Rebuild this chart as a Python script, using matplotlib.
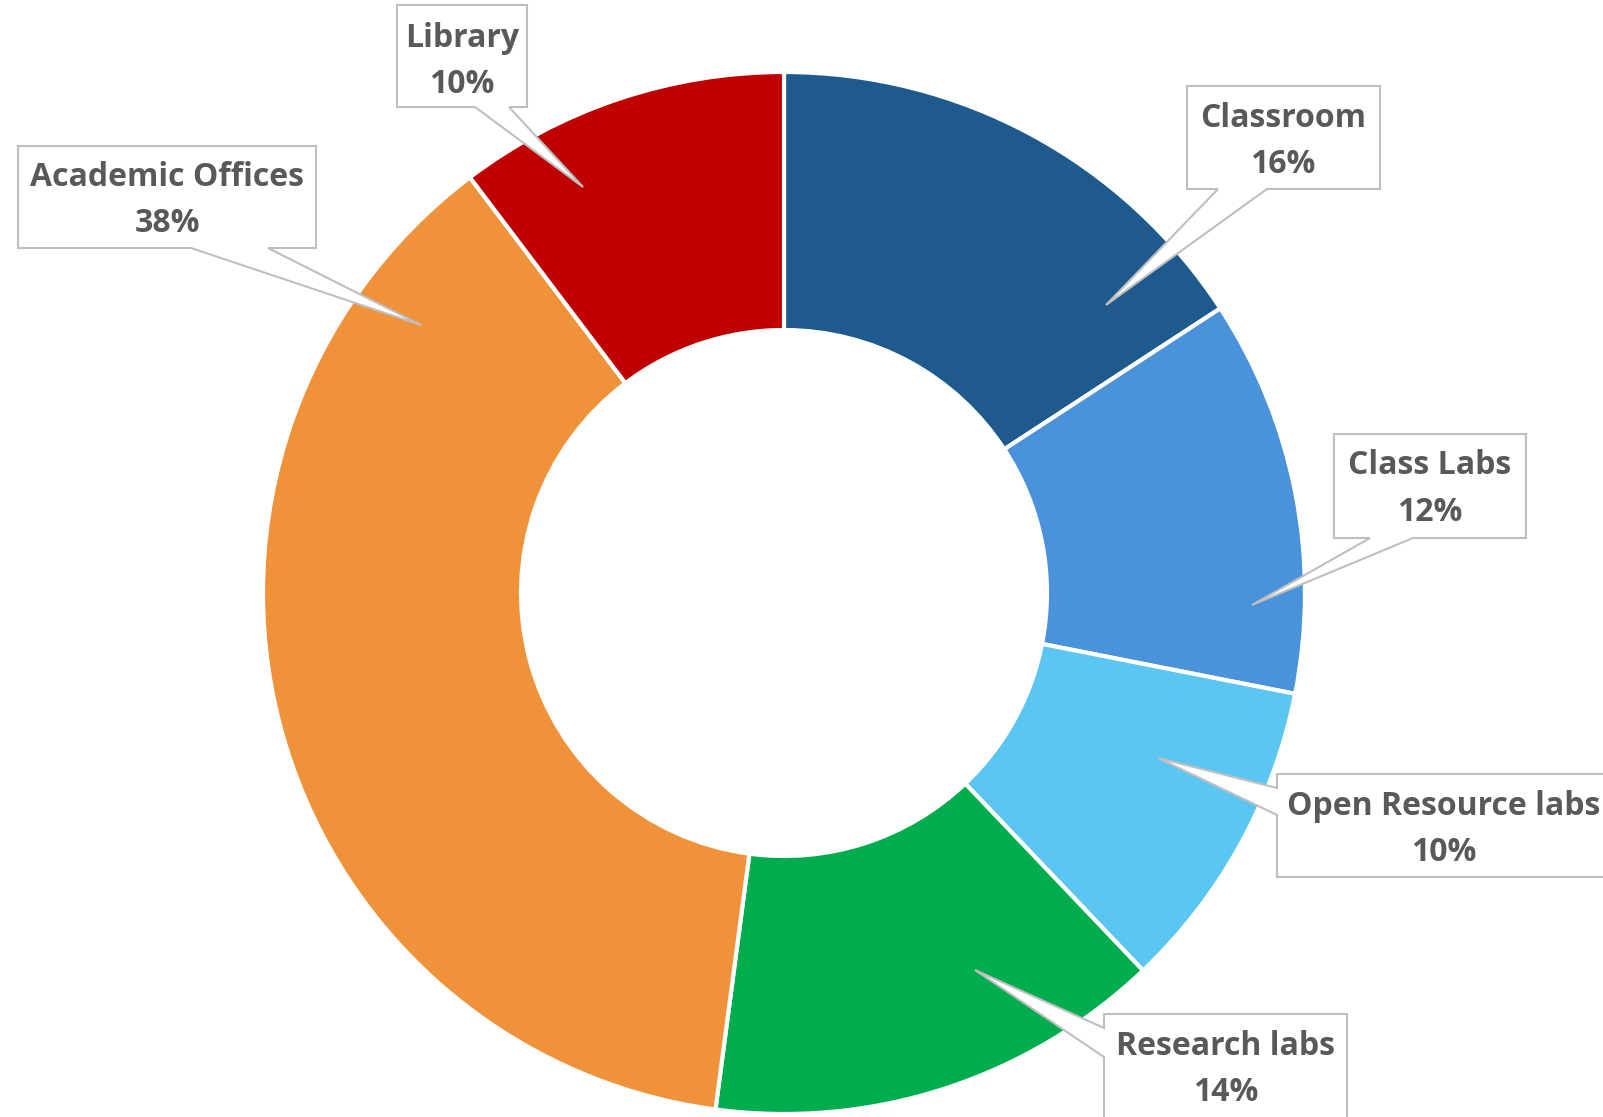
import matplotlib
matplotlib.use("Agg")
import matplotlib.pyplot as plt
from matplotlib.patches import Polygon

categories = ["Classroom", "Class Labs", "Open Resource labs", "Research labs",
              "Academic Offices", "Library"]
shares = [15.8, 12.3, 9.8, 14.2, 37.6, 10.3]
pct_labels = ["16%", "12%", "10%", "14%", "38%", "10%"]
colors = ["#1F5A8F", "#4A92DA", "#5BC6F2", "#00AD4E", "#F0923A", "#C00000"]

# Uklad etykiet (wspolrzedne w pikselach obrazu, y w dol)
# box: (x0, y0, x1, y1), edge, base (a, b), tip, text x, text y (2 linie)
label_layout = {
    "Classroom": ((1187, 86, 1380, 189), "bottom", (1218, 1267), (1106, 305), 1283, (116, 162)),
    "Class Labs": ((1334, 434, 1526, 538), "bottom", (1370, 1413), (1252, 605), 1430, (463, 510)),
    "Open Resource labs": ((1277, 774, 1612, 877), "left", (788, 815), (1158, 758), 1444, (804, 850)),
    "Research labs": ((1104, 1014, 1347, 1122), "left", (1028, 1057), (975, 970), 1226, (1044, 1090)),
    "Academic Offices": ((18, 146, 316, 248), "bottom", (191, 268), (421, 325), 167, (175, 221)),
    "Library": ((397, 5, 527, 107), "bottom", (475, 509), (583, 187), 462, (36, 82)),
}

W, H = 1603, 1117
fig = plt.figure(figsize=(W / 100, H / 100), dpi=100)
ax = fig.add_axes([0, 0, 1, 1])

# os y odwrocona -> counterclock=True daje ruch zgodny z zegarem na obrazku
ax.pie(shares, colors=colors, center=(784, 593), radius=521,
       startangle=-90, counterclock=True,
       wedgeprops=dict(width=258, edgecolor="white", linewidth=3))
ax.set_xlim(0, W)
ax.set_ylim(H, 0)
ax.set_aspect("equal")
ax.axis("off")


def callout(box, edge, base, tip):
    x0, y0, x1, y1 = box
    a, b = base
    if edge == "bottom":
        pts = [(x0, y0), (x1, y0), (x1, y1), (b, y1), tip, (a, y1), (x0, y1)]
    else:
        pts = [(x0, y0), (x1, y0), (x1, y1), (x0, y1), (x0, b), tip, (x0, a)]
    return Polygon(pts, closed=True, facecolor="white", edgecolor="#BFBFBF",
                   linewidth=1.5, zorder=5)


for name, pct in zip(categories, pct_labels):
    box, edge, base, tip, tx, ty = label_layout[name]
    ax.add_patch(callout(box, edge, base, tip))
    for line, y in zip([name, pct], ty):
        ax.text(tx, y + 11, line, ha="center", va="baseline", fontsize=23,
                fontweight="bold", color="#595959",
                family=["Open Sans", "DejaVu Sans"], zorder=6)

fig.savefig("out.png", dpi=100)
